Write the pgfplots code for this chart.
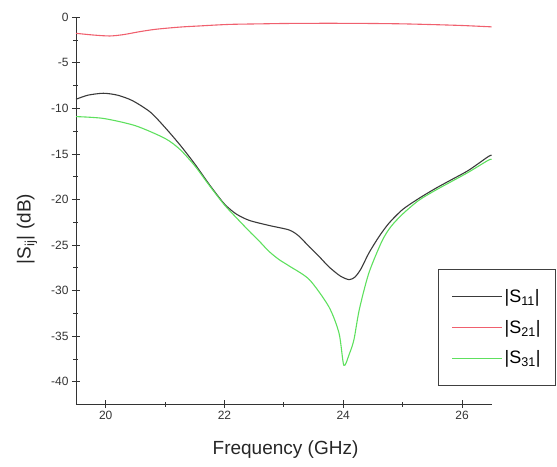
\documentclass[border=0pt]{standalone}
\usepackage{fontspec}
\setmainfont{Liberation Sans}
\usepackage{pgfplots}
\pgfplotsset{compat=1.18}
\definecolor{sblack}{HTML}{3A3A3A}
\definecolor{sred}{HTML}{F0606E}
\definecolor{sgreen}{HTML}{5EE05E}
\begin{document}
\begin{tikzpicture}
\begin{axis}[
 scale only axis, width=415.7pt, height=386.7pt,
 xmin=19.5, xmax=26.5, ymin=-42.45, ymax=0,
 axis lines=left, axis line style={-, line width=0.9pt, color=black!80},
 xtick={20,22,24,26}, minor xtick={21,23,25},
 ytick={-40,-35,...,0}, minor ytick={-42.5,-37.5,...,-2.5},
 tick align=center, major tick length=8pt, minor tick length=5pt,
 tick style={black!80, line width=0.8pt},
 /pgf/number format/assume math mode=true,
 tick label style={font=\fontsize{12}{12}\selectfont, text=black!80},
 xlabel={Frequency (GHz)}, ylabel={|S\textsubscript{ij}| (dB)},
 label style={font=\fontsize{19}{19}\selectfont, text=black!85},
 xlabel style={at={(axis description cs:0.504,0)}, anchor=center, yshift=-46pt},
 ylabel style={at={(axis description cs:-0.118,0.4525)}, anchor=center},
 legend style={at={(axis cs:25.6,-27.66)}, anchor=north west, draw=black!75, line width=0.8pt,
   font=\fontsize{18}{18}\selectfont, inner xsep=13pt, inner ysep=18pt, row sep=12pt},
 legend cell align=left,
 legend image code/.code={\draw[#1, line width=1pt] (0pt,0pt) -- (50pt,0pt);},
 every axis plot/.append style={line width=1.1pt, smooth, tension=0.45},
]
\coordinate (sw) at (rel axis cs:0,0);
\addplot[sblack] coordinates {
(19.5,-9.0) (19.7,-8.55) (19.96,-8.34) (20.2,-8.55) (20.45,-9.15) (20.75,-10.4) (21.0,-12.1)
(21.25,-14.0) (21.5,-16.1) (21.75,-18.4) (22.0,-20.5) (22.2,-21.6) (22.42,-22.3) (22.75,-22.85)
(23.09,-23.35) (23.25,-24.0)
(23.43,-25.2) (23.6,-26.3) (23.76,-27.4) (23.95,-28.4) (24.1,-28.8) (24.2,-28.5) (24.3,-27.6)
(24.43,-25.9) (24.6,-24.1) (24.77,-22.6) (25.0,-21.1) (25.27,-19.9) (25.55,-18.8) (25.83,-17.8)
(26.11,-16.8) (26.44,-15.3) (26.5,-15.15)
};
\addlegendentry{|S\textsubscript{11}|}
\addplot[sred] coordinates {
(19.5,-1.76) (19.8,-1.95) (20.07,-2.05) (20.3,-1.9) (20.57,-1.58) (20.8,-1.35) (21.02,-1.2)
(21.3,-1.05) (21.58,-0.95) (21.85,-0.85) (22.13,-0.77) (22.6,-0.72) (23.0,-0.68) (23.5,-0.66)
(24.0,-0.66) (24.5,-0.68) (25.0,-0.72) (25.5,-0.8) (26.0,-0.9) (26.5,-1.05)
};
\addlegendentry{|S\textsubscript{21}|}
\addplot[sgreen] coordinates {
(19.5,-10.9) (19.96,-11.1) (20.5,-11.9) (21.0,-13.3) (21.25,-14.5) (21.5,-16.3) (21.75,-18.5)
(22.0,-20.6) (22.2,-22.0)
(22.42,-23.5) (22.59,-24.6) (22.75,-25.7) (22.92,-26.6) (23.09,-27.3) (23.43,-28.8) (23.76,-31.8)
(23.93,-34.7) (24.01,-38.2) (24.1,-37.0) (24.18,-35.4) (24.27,-32.1) (24.43,-28.1) (24.65,-24.6)
(24.8,-23.0) (25.0,-21.6) (25.27,-20.1) (25.55,-19.0) (25.83,-18.0) (26.11,-17.0) (26.44,-15.7)
(26.5,-15.6)
};
\addlegendentry{|S\textsubscript{31}|}
\end{axis}
\pgfresetboundingbox
\useasboundingbox (sw) ++(-76pt,-62pt) rectangle ++(557pt,466pt);
\end{tikzpicture}
\end{document}
